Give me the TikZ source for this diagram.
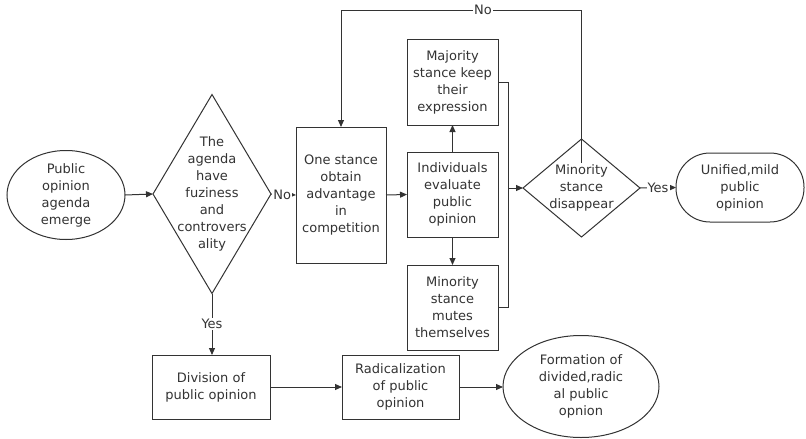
\documentclass[tikz,border=0pt]{standalone}
\usepackage{fontspec}
\setmainfont{DejaVu Sans}
\usetikzlibrary{arrows.meta,shapes.geometric}
\definecolor{ln}{HTML}{333333}
\begin{document}
\begin{tikzpicture}[x=1pt,y=-1pt,
  every node/.style={font=\fontsize{13}{17}\selectfont, text=ln},
  shp/.style={draw=ln, line width=1pt, inner sep=0pt, outer sep=0pt, align=center},
  boxn/.style={shp, rectangle},
  dia/.style={shp, diamond},
  ell/.style={shp, ellipse},
  stad/.style={shp, rectangle, rounded corners=34pt},
  ctext/.style={align=center, inner sep=0pt},
  conn/.style={draw=ln, line width=1pt},
  arr/.style={conn, -{Triangle[length=7pt,width=6pt]}},
  lab/.style={fill=white, inner sep=1pt, font=\fontsize{13}{17}\selectfont}]
\useasboundingbox (0,0) rectangle (806,439);
\fill[white] (0,0) rectangle (806,439);

% shapes
\node[ell, minimum width=118pt, minimum height=89pt] (e1) at (66,195) {};
\node[ctext] at (e1) {Public\\opinion\\agenda\\emerge};

\node[dia, minimum width=118pt, minimum height=199pt] (d1) at (212,194) {};
\node[ctext] at (d1) {The\\agenda\\have\\fuziness\\and\\controvers\\ality};

\node[boxn, minimum width=90pt, minimum height=136pt] (b1) at (341,195) {One stance\\obtain\\advantage\\in\\competition};

\node[boxn, minimum width=91pt, minimum height=86pt] (b2) at (452.5,82) {Majority\\stance keep\\their\\expression};
\node[boxn, minimum width=91pt, minimum height=85pt] (b3) at (452.5,194.5) {Individuals\\evaluate\\public\\opinion};
\node[boxn, minimum width=91pt, minimum height=85pt] (b4) at (452.5,307.5) {Minority\\stance\\mutes\\themselves};

\node[dia, minimum width=117pt, minimum height=98pt] (d2) at (581.5,188) {};
\node[ctext] at (d2) {Minority\\stance\\disappear};

\node[stad, minimum width=128pt, minimum height=69pt] (e2) at (740,187.5) {Unified,mild\\public\\opinion};

\node[boxn, minimum width=118pt, minimum height=64pt] (b5) at (211,387) {Division of\\public opinion};
\node[boxn, minimum width=117pt, minimum height=64pt] (b6) at (400.5,387) {Radicalization\\of public\\opinion};
\node[ell, minimum width=156pt, minimum height=102pt] (e3) at (581,386.5) {};
\node[ctext] at (e3) {Formation of\\divided,radic\\al public\\opnion};

% connectors
\coordinate (loopy) at (0,10);
\coordinate (busx) at (508,0);
\coordinate (ls) at ([yshift=-24pt]d2.north);

\draw[arr] (e1.east) -- (d1.west);
\draw[arr] (d1.east) -- node[lab, pos=0.45]{No} (b1.west);
\draw[arr] (b1.east) -- (b3.west);
\draw[arr] (b3.north) -- (b2.south);
\draw[arr] (b3.south) -- (b4.north);
\draw[conn] (b2.east) -- (busx |- b2.east) -- (busx |- b4.east) -- (b4.east);
\draw[arr] (busx |- d2.west) -- (d2.west);
\draw[arr] (ls) -- (ls |- loopy) -- node[lab, pos=0.41]{No} (b1.north |- loopy) -- (b1.north);
\draw[arr] (d2.east) -- node[lab, pos=0.5]{Yes} (e2.west);
\draw[arr] (d1.south) -- node[lab, pos=0.5]{Yes} (d1.south |- b5.north);
\draw[arr] (b5.east) -- (b6.west);
\draw[arr] (b6.east) -- (b6.east -| e3.west);
\end{tikzpicture}
\end{document}
